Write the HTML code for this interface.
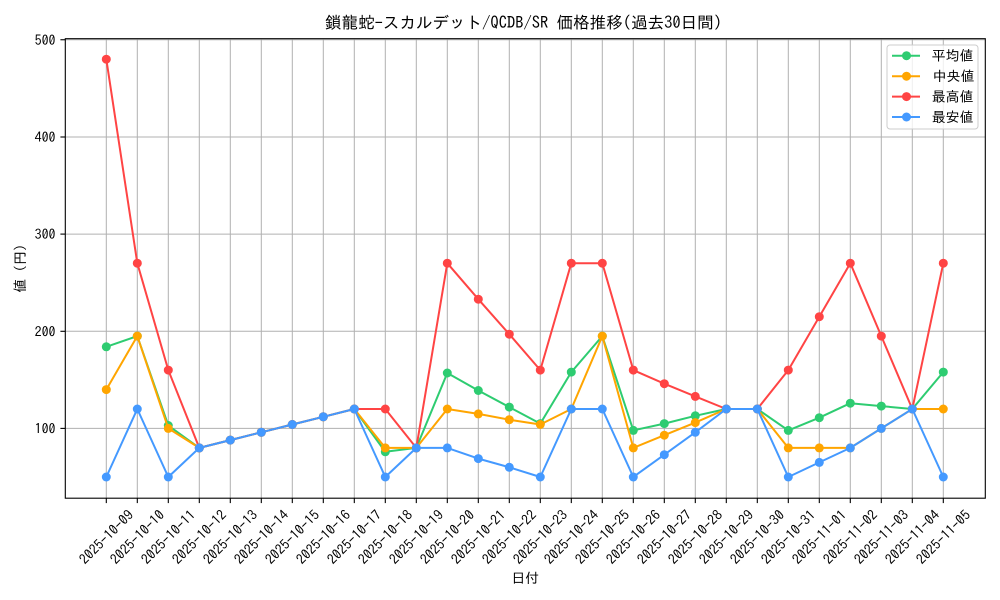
<!DOCTYPE html>
<html>
<head>
<meta charset="utf-8">
<style>
html,body{margin:0;padding:0;background:#fff;}
svg{display:block;}
text{font-family:"IPAGothic","Liberation Sans","Noto Sans CJK JP",sans-serif;fill:#000;}
</style>
</head>
<body>
<svg width="1000" height="600" viewBox="0 0 1000 600" xmlns="http://www.w3.org/2000/svg">
<defs>
<marker id="mg" markerWidth="10" markerHeight="10" refX="5" refY="5" markerUnits="userSpaceOnUse"><circle cx="5" cy="5" r="4.5" fill="#2ecc71"/></marker>
<marker id="mo" markerWidth="10" markerHeight="10" refX="5" refY="5" markerUnits="userSpaceOnUse"><circle cx="5" cy="5" r="4.5" fill="#ffa500"/></marker>
<marker id="mr" markerWidth="10" markerHeight="10" refX="5" refY="5" markerUnits="userSpaceOnUse"><circle cx="5" cy="5" r="4.5" fill="#ff4444"/></marker>
<marker id="mb" markerWidth="10" markerHeight="10" refX="5" refY="5" markerUnits="userSpaceOnUse"><circle cx="5" cy="5" r="4.5" fill="#4499ff"/></marker>
</defs>
<rect width="1000" height="600" fill="#fff"/>

<!-- title -->
<text x="523.5" y="28.5" font-size="16.5" text-anchor="middle" textLength="397" lengthAdjust="spacingAndGlyphs">鎖龍蛇-スカルデット/QCDB/SR 価格推移(過去30日間)</text>

<!-- grid -->
<g stroke="#b0b0b0" stroke-width="1">
<line x1="65.3" x2="985.3" y1="428.4" y2="428.4"/>
<line x1="65.3" x2="985.3" y1="331.3" y2="331.3"/>
<line x1="65.3" x2="985.3" y1="234.1" y2="234.1"/>
<line x1="65.3" x2="985.3" y1="137.0" y2="137.0"/>
<line x1="65.3" x2="985.3" y1="39.75" y2="39.75"/>
<line x1="106.3" x2="106.3" y1="38.7" y2="498.2"/>
<line x1="137.3" x2="137.3" y1="38.7" y2="498.2"/>
<line x1="168.3" x2="168.3" y1="38.7" y2="498.2"/>
<line x1="199.3" x2="199.3" y1="38.7" y2="498.2"/>
<line x1="230.3" x2="230.3" y1="38.7" y2="498.2"/>
<line x1="261.3" x2="261.3" y1="38.7" y2="498.2"/>
<line x1="292.3" x2="292.3" y1="38.7" y2="498.2"/>
<line x1="323.3" x2="323.3" y1="38.7" y2="498.2"/>
<line x1="354.3" x2="354.3" y1="38.7" y2="498.2"/>
<line x1="385.3" x2="385.3" y1="38.7" y2="498.2"/>
<line x1="416.3" x2="416.3" y1="38.7" y2="498.2"/>
<line x1="447.3" x2="447.3" y1="38.7" y2="498.2"/>
<line x1="478.3" x2="478.3" y1="38.7" y2="498.2"/>
<line x1="509.3" x2="509.3" y1="38.7" y2="498.2"/>
<line x1="540.3" x2="540.3" y1="38.7" y2="498.2"/>
<line x1="571.3" x2="571.3" y1="38.7" y2="498.2"/>
<line x1="602.3" x2="602.3" y1="38.7" y2="498.2"/>
<line x1="633.3" x2="633.3" y1="38.7" y2="498.2"/>
<line x1="664.3" x2="664.3" y1="38.7" y2="498.2"/>
<line x1="695.3" x2="695.3" y1="38.7" y2="498.2"/>
<line x1="726.3" x2="726.3" y1="38.7" y2="498.2"/>
<line x1="757.3" x2="757.3" y1="38.7" y2="498.2"/>
<line x1="788.3" x2="788.3" y1="38.7" y2="498.2"/>
<line x1="819.3" x2="819.3" y1="38.7" y2="498.2"/>
<line x1="850.3" x2="850.3" y1="38.7" y2="498.2"/>
<line x1="881.3" x2="881.3" y1="38.7" y2="498.2"/>
<line x1="912.3" x2="912.3" y1="38.7" y2="498.2"/>
<line x1="943.3" x2="943.3" y1="38.7" y2="498.2"/>
</g>

<!-- series -->
<g fill="none" stroke-width="2" stroke-linejoin="round" stroke-linecap="round">
<polyline stroke="#2ecc71" marker-start="url(#mg)" marker-mid="url(#mg)" marker-end="url(#mg)" points="106.3,346.8 137.3,336.1 168.3,425.5 199.3,447.9 230.3,440.1 261.3,432.3 292.3,424.5 323.3,416.8 354.3,409.0 385.3,451.8 416.3,447.9 447.3,373.0 478.3,390.5 509.3,407.1 540.3,423.6 571.3,372.1 602.3,336.1 633.3,430.4 664.3,423.6 695.3,415.8 726.3,409.0 757.3,409.0 788.3,430.4 819.3,417.7 850.3,403.2 881.3,406.1 912.3,409.0 943.3,372.1"/>
<polyline stroke="#ffa500" marker-start="url(#mo)" marker-mid="url(#mo)" marker-end="url(#mo)" points="106.3,389.6 137.3,336.1 168.3,428.4 199.3,447.9 230.3,440.1 261.3,432.3 292.3,424.5 323.3,416.8 354.3,409.0 385.3,447.9 416.3,447.9 447.3,409.0 478.3,413.9 509.3,419.7 540.3,424.5 571.3,409.0 602.3,336.1 633.3,447.9 664.3,435.2 695.3,422.6 726.3,409.0 757.3,409.0 788.3,447.9 819.3,447.9 850.3,447.9 881.3,428.4 912.3,409.0 943.3,409.0"/>
<polyline stroke="#ff4444" marker-start="url(#mr)" marker-mid="url(#mr)" marker-end="url(#mr)" points="106.3,59.2 137.3,263.2 168.3,370.1 199.3,447.9 230.3,440.1 261.3,432.3 292.3,424.5 323.3,416.8 354.3,409.0 385.3,409.0 416.3,447.9 447.3,263.2 478.3,299.2 509.3,334.2 540.3,370.1 571.3,263.2 602.3,263.2 633.3,370.1 664.3,383.7 695.3,396.4 726.3,409.0 757.3,409.0 788.3,370.1 819.3,316.7 850.3,263.2 881.3,336.1 912.3,409.0 943.3,263.2"/>
<polyline stroke="#4499ff" marker-start="url(#mb)" marker-mid="url(#mb)" marker-end="url(#mb)" points="106.3,477.0 137.3,409.0 168.3,477.0 199.3,447.9 230.3,440.1 261.3,432.3 292.3,424.5 323.3,416.8 354.3,409.0 385.3,477.0 416.3,447.9 447.3,447.9 478.3,458.6 509.3,467.3 540.3,477.0 571.3,409.0 602.3,409.0 633.3,477.0 664.3,454.7 695.3,432.3 726.3,409.0 757.3,409.0 788.3,477.0 819.3,462.4 850.3,447.9 881.3,428.4 912.3,409.0 943.3,477.0"/>
</g>

<!-- axes frame -->
<rect x="65.3" y="38.7" width="920" height="459.5" fill="none" stroke="#000" stroke-width="1.1"/>

<!-- ticks -->
<g stroke="#000" stroke-width="1.1">
<line x1="60.4" x2="65.3" y1="428.4" y2="428.4"/>
<line x1="60.4" x2="65.3" y1="331.3" y2="331.3"/>
<line x1="60.4" x2="65.3" y1="234.1" y2="234.1"/>
<line x1="60.4" x2="65.3" y1="137.0" y2="137.0"/>
<line x1="60.4" x2="65.3" y1="39.75" y2="39.75"/>
<line x1="106.3" x2="106.3" y1="498.2" y2="503.1"/>
<line x1="137.3" x2="137.3" y1="498.2" y2="503.1"/>
<line x1="168.3" x2="168.3" y1="498.2" y2="503.1"/>
<line x1="199.3" x2="199.3" y1="498.2" y2="503.1"/>
<line x1="230.3" x2="230.3" y1="498.2" y2="503.1"/>
<line x1="261.3" x2="261.3" y1="498.2" y2="503.1"/>
<line x1="292.3" x2="292.3" y1="498.2" y2="503.1"/>
<line x1="323.3" x2="323.3" y1="498.2" y2="503.1"/>
<line x1="354.3" x2="354.3" y1="498.2" y2="503.1"/>
<line x1="385.3" x2="385.3" y1="498.2" y2="503.1"/>
<line x1="416.3" x2="416.3" y1="498.2" y2="503.1"/>
<line x1="447.3" x2="447.3" y1="498.2" y2="503.1"/>
<line x1="478.3" x2="478.3" y1="498.2" y2="503.1"/>
<line x1="509.3" x2="509.3" y1="498.2" y2="503.1"/>
<line x1="540.3" x2="540.3" y1="498.2" y2="503.1"/>
<line x1="571.3" x2="571.3" y1="498.2" y2="503.1"/>
<line x1="602.3" x2="602.3" y1="498.2" y2="503.1"/>
<line x1="633.3" x2="633.3" y1="498.2" y2="503.1"/>
<line x1="664.3" x2="664.3" y1="498.2" y2="503.1"/>
<line x1="695.3" x2="695.3" y1="498.2" y2="503.1"/>
<line x1="726.3" x2="726.3" y1="498.2" y2="503.1"/>
<line x1="757.3" x2="757.3" y1="498.2" y2="503.1"/>
<line x1="788.3" x2="788.3" y1="498.2" y2="503.1"/>
<line x1="819.3" x2="819.3" y1="498.2" y2="503.1"/>
<line x1="850.3" x2="850.3" y1="498.2" y2="503.1"/>
<line x1="881.3" x2="881.3" y1="498.2" y2="503.1"/>
<line x1="912.3" x2="912.3" y1="498.2" y2="503.1"/>
<line x1="943.3" x2="943.3" y1="498.2" y2="503.1"/>
</g>

<!-- y tick labels -->
<g font-size="13.9" text-anchor="end">
<text x="55.5" y="433.4">100</text>
<text x="55.5" y="336.3">200</text>
<text x="55.5" y="239.1">300</text>
<text x="55.5" y="142.0">400</text>
<text x="55.5" y="44.75">500</text>
</g>

<!-- x tick labels -->
<g font-size="13.9" text-anchor="middle" dominant-baseline="central">
<text x="106.3" y="537" transform="rotate(-45 106.3 537)">2025-10-09</text>
<text x="137.3" y="537" transform="rotate(-45 137.3 537)">2025-10-10</text>
<text x="168.3" y="537" transform="rotate(-45 168.3 537)">2025-10-11</text>
<text x="199.3" y="537" transform="rotate(-45 199.3 537)">2025-10-12</text>
<text x="230.3" y="537" transform="rotate(-45 230.3 537)">2025-10-13</text>
<text x="261.3" y="537" transform="rotate(-45 261.3 537)">2025-10-14</text>
<text x="292.3" y="537" transform="rotate(-45 292.3 537)">2025-10-15</text>
<text x="323.3" y="537" transform="rotate(-45 323.3 537)">2025-10-16</text>
<text x="354.3" y="537" transform="rotate(-45 354.3 537)">2025-10-17</text>
<text x="385.3" y="537" transform="rotate(-45 385.3 537)">2025-10-18</text>
<text x="416.3" y="537" transform="rotate(-45 416.3 537)">2025-10-19</text>
<text x="447.3" y="537" transform="rotate(-45 447.3 537)">2025-10-20</text>
<text x="478.3" y="537" transform="rotate(-45 478.3 537)">2025-10-21</text>
<text x="509.3" y="537" transform="rotate(-45 509.3 537)">2025-10-22</text>
<text x="540.3" y="537" transform="rotate(-45 540.3 537)">2025-10-23</text>
<text x="571.3" y="537" transform="rotate(-45 571.3 537)">2025-10-24</text>
<text x="602.3" y="537" transform="rotate(-45 602.3 537)">2025-10-25</text>
<text x="633.3" y="537" transform="rotate(-45 633.3 537)">2025-10-26</text>
<text x="664.3" y="537" transform="rotate(-45 664.3 537)">2025-10-27</text>
<text x="695.3" y="537" transform="rotate(-45 695.3 537)">2025-10-28</text>
<text x="726.3" y="537" transform="rotate(-45 726.3 537)">2025-10-29</text>
<text x="757.3" y="537" transform="rotate(-45 757.3 537)">2025-10-30</text>
<text x="788.3" y="537" transform="rotate(-45 788.3 537)">2025-10-31</text>
<text x="819.3" y="537" transform="rotate(-45 819.3 537)">2025-11-01</text>
<text x="850.3" y="537" transform="rotate(-45 850.3 537)">2025-11-02</text>
<text x="881.3" y="537" transform="rotate(-45 881.3 537)">2025-11-03</text>
<text x="912.3" y="537" transform="rotate(-45 912.3 537)">2025-11-04</text>
<text x="943.3" y="537" transform="rotate(-45 943.3 537)">2025-11-05</text>
</g>

<!-- axis labels -->
<text x="525.3" y="578" font-size="13.9" text-anchor="middle" dominant-baseline="central">日付</text>
<text x="20" y="268.5" font-size="13.9" text-anchor="middle" dominant-baseline="central" transform="rotate(-90 20 268.5)">値 (円)</text>

<!-- legend -->
<rect x="887" y="45" width="91" height="84" rx="3" ry="3" fill="#fff" fill-opacity="0.8" stroke="#cccccc" stroke-width="1"/>
<g stroke-width="2">
<line x1="892" x2="920" y1="55.7" y2="55.7" stroke="#2ecc71"/>
<line x1="892" x2="920" y1="76.2" y2="76.2" stroke="#ffa500"/>
<line x1="892" x2="920" y1="96.6" y2="96.6" stroke="#ff4444"/>
<line x1="892" x2="920" y1="117" y2="117" stroke="#4499ff"/>
</g>
<circle cx="906.5" cy="55.7" r="4.5" fill="#2ecc71"/>
<circle cx="906.5" cy="76.2" r="4.5" fill="#ffa500"/>
<circle cx="906.5" cy="96.6" r="4.5" fill="#ff4444"/>
<circle cx="906.5" cy="117" r="4.5" fill="#4499ff"/>
<g font-size="13.9" dominant-baseline="central">
<text x="931.7" y="55.7">平均値</text>
<text x="932.7" y="76.2">中央値</text>
<text x="931.7" y="96.6">最高値</text>
<text x="931.7" y="117">最安値</text>
</g>
</svg>
</body>
</html>
